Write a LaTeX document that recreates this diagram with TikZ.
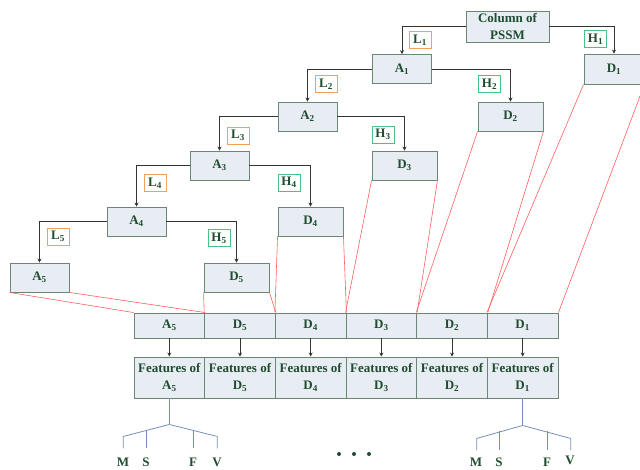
\documentclass[tikz,border=0pt]{standalone}
\usepackage{fontspec}
\setmainfont{Liberation Serif}
\usetikzlibrary{arrows.meta}
\definecolor{boxfill}{RGB}{232,237,244}
\definecolor{boxline}{RGB}{105,135,115}
\definecolor{txtgreen}{RGB}{32,76,48}
\definecolor{lorange}{RGB}{242,160,92}
\definecolor{hgreen}{RGB}{72,196,128}
\definecolor{redline}{RGB}{255,95,95}
\definecolor{treeblue}{RGB}{118,142,184}

\begin{document}
\begin{tikzpicture}[x=1pt,y=-1pt]
    \tikzstyle{every node}+=[inner sep=0pt, text=txtgreen, font=\fontsize{13}{16.5}\selectfont\bfseries]
    \tikzstyle{blk}=[draw=boxline, fill=boxfill, line width=0.9pt, align=center]
    \tikzstyle{abox}=[blk, minimum width=59pt, minimum height=29pt]
    \tikzstyle{dbox}=[blk, minimum width=65pt, minimum height=29pt]
    \tikzstyle{cell}=[blk, minimum width=70.67pt, minimum height=25pt]
    \tikzstyle{feat}=[blk, minimum width=70.67pt, minimum height=41pt]
    \tikzstyle{lo}=[draw=lorange, fill=white, line width=0.8pt, minimum width=22pt, minimum height=17pt]
    \tikzstyle{hi}=[draw=hgreen, fill=white, line width=0.8pt, minimum width=22pt, minimum height=17pt]
    \tikzstyle{conn}=[black!80, line width=0.8pt, -{Stealth[length=4pt,width=4pt]}]
    \tikzstyle{redl}=[redline, line width=0.6pt]
    \tikzstyle{tree}=[treeblue, line width=0.8pt]
    \useasboundingbox (0,0) rectangle (640,470);
    \node[blk, minimum width=83pt, minimum height=31pt] (col) at (507.5,26.5) {Column of\\PSSM};
    \node[abox] (a1) at (402,69) {A\textsubscript{1}};
    \node[blk, minimum width=60pt, minimum height=30pt] (d1) at (614,69) {D\textsubscript{1}};
    \node[abox] (a2) at (307.5,116.5) {A\textsubscript{2}};
    \node[dbox] (d2) at (510.5,116.5) {D\textsubscript{2}};
    \node[abox] (a3) at (219.5,165.5) {A\textsubscript{3}};
    \node[dbox] (d3) at (404.5,165.5) {D\textsubscript{3}};
    \node[abox] (a4) at (136.5,221.5) {A\textsubscript{4}};
    \node[dbox] (d4) at (310.5,221.5) {D\textsubscript{4}};
    \node[abox] (a5) at (39.5,277.5) {A\textsubscript{5}};
    \node[dbox] (d5) at (236.5,277.5) {D\textsubscript{5}};
    \draw[conn] (col.west) -| (a1.north);
    \draw[conn] (col.east) -| (d1.north);
    \draw[conn] (a1.west) -| (a2.north);
    \draw[conn] (a1.east) -| (d2.north);
    \draw[conn] (a2.west) -| (a3.north);
    \draw[conn] (a2.east) -| (d3.north);
    \draw[conn] (a3.west) -| (a4.north);
    \draw[conn] (a3.east) -| (d4.north);
    \draw[conn] (a4.west) -| (a5.north);
    \draw[conn] (a4.east) -| (d5.north);
    \node[lo] (l1) at (420,40) {L\textsubscript{1}};
    \node[hi] (h1) at (595.5,39) {H\textsubscript{1}};
    \node[lo] (l2) at (326,84) {L\textsubscript{2}};
    \node[hi] (h2) at (489.5,84) {H\textsubscript{2}};
    \node[lo] (l3) at (238,135.5) {L\textsubscript{3}};
    \node[hi] (h3) at (383,134.5) {H\textsubscript{3}};
    \node[lo] (l4) at (155,183) {L\textsubscript{4}};
    \node[hi] (h4) at (289,182.5) {H\textsubscript{4}};
    \node[lo] (l5) at (58,236.5) {L\textsubscript{5}};
    \node[hi] (h5) at (219,238) {H\textsubscript{5}};
    \foreach \nm/\s [count=\i from 0] in {A/5,D/5,D/4,D/3,D/2,D/1} {
        \node[cell] (c\i) at (169.33+70.67*\i,325.5) {\nm\textsubscript{\s}};
        \node[feat] (f\i) at (169.33+70.67*\i,377.5) {Features of\\\nm\textsubscript{\s}};
        \draw[conn] (c\i.south) -- (f\i.north);
    }
    \draw[redl] (a5.south west) -- (c0.north west);
    \draw[redl] (a5.south east) -- (c0.north east);
    \draw[redl] (d5.south west) -- (c1.north west);
    \draw[redl] (d5.south east) -- (c1.north east);
    \draw[redl] (d4.south west) -- (c2.north west);
    \draw[redl] (d4.south east) -- (c2.north east);
    \draw[redl] (d3.south west) -- (c3.north west);
    \draw[redl] (d3.south east) -- (c3.north east);
    \draw[redl] (d2.south west) -- (c4.north west);
    \draw[redl] (d2.south east) -- (c4.north east);
    \draw[redl] (d1.south west) -- (c5.north west);
    \draw[redl] (d1.south east) -- (c5.north east);
    \draw[tree] (f0.south) -- ++(0,26) coordinate (t1);
    \draw[tree] (t1) -- ++(-46,12) -- ++(0,12);
    \draw[tree] (t1) -- ++(48,12) -- ++(0,12);
    \draw[tree] (146,430) -- (146,448);
    \draw[tree] (193,430) -- (193,448);
    \node (m1) at (123,462) {M};
    \node (s1) at (146,462) {S};
    \node (fa1) at (193,462) {F};
    \node (v1) at (217,462) {V};
    \draw[tree] (f5.south) -- ++(0,27) coordinate (t2);
    \draw[tree] (t2) -- ++(-46,13) -- ++(0,12);
    \draw[tree] (t2) -- ++(48,13) -- ++(0,12);
    \draw[tree] (499,431) -- (499,450);
    \draw[tree] (547,431) -- (547,450);
    \node (m2) at (476,462) {M};
    \node (s2) at (499,462) {S};
    \node (fa2) at (547,462) {F};
    \node (v2) at (570,460) {V};
    \foreach \x in {339,354,369} \fill[txtgreen] (\x,454) circle (2);
\end{tikzpicture}
\end{document}
